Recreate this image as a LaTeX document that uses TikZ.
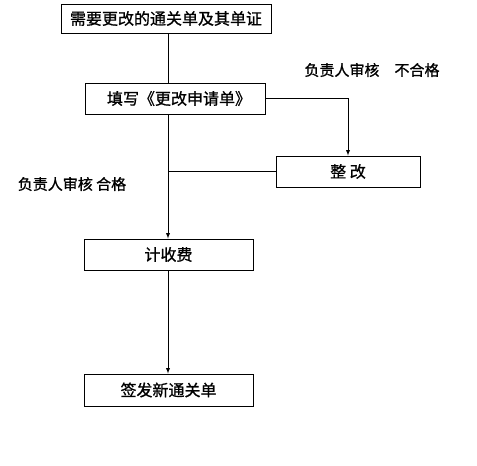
\documentclass[tikz,border=0pt]{standalone}
\usepackage{fontspec}
\newfontfamily\cjk{Noto Sans CJK SC}[FakeBold=1]
\tikzset{
  >=latex,
}
\tikzstyle{step box}=[draw,line width=.9pt,minimum height=31pt,inner sep=0pt,font=\cjk\fontsize{16}{19}\selectfont]
\tikzstyle{flow}=[line width=.9pt]
\tikzstyle{every node}=[font=\cjk\fontsize{15}{18}\selectfont]

\begin{document}
\begin{tikzpicture}[x=1pt,y=-1pt]
        \useasboundingbox[fill=white] (0,0) rectangle (477,466);
        \coordinate (main) at (168,0);
        \node[step box,minimum width=210pt,minimum height=29pt] (need) at (166,18.5) {需要更改的通关单及其单证};
        \node[step box,minimum width=180pt] (apply) at (175,98.5) {\hspace{8pt}填写《更改申请单》};
        \node[step box,minimum width=144pt] (fix) at (348,171.5) {整\ 改\hspace{18pt}};
        \node[step box,minimum width=169pt] (fee) at (168.5,254.5) {计收费};
        \node[step box,minimum width=169pt,minimum height=32pt] (issue) at (168.5,390) {签发新通关单};
        \node (fail) at (372,70) {负责人审核\quad 不合格};
        \node (pass) at (72,184) {负责人审核 合格};
        \draw[flow] (need.south -| main)--(apply.north -| main);
        \draw[flow,->] (apply.south -| main)--(fee.north -| main);
        \draw[flow,->] (apply.east)-|(fix.north);
        \draw[flow] (fix.west)--(fix.west -| main);
        \draw[flow,->] (fee.south -| main)--(issue.north -| main);
      \end{tikzpicture}
\end{document}
